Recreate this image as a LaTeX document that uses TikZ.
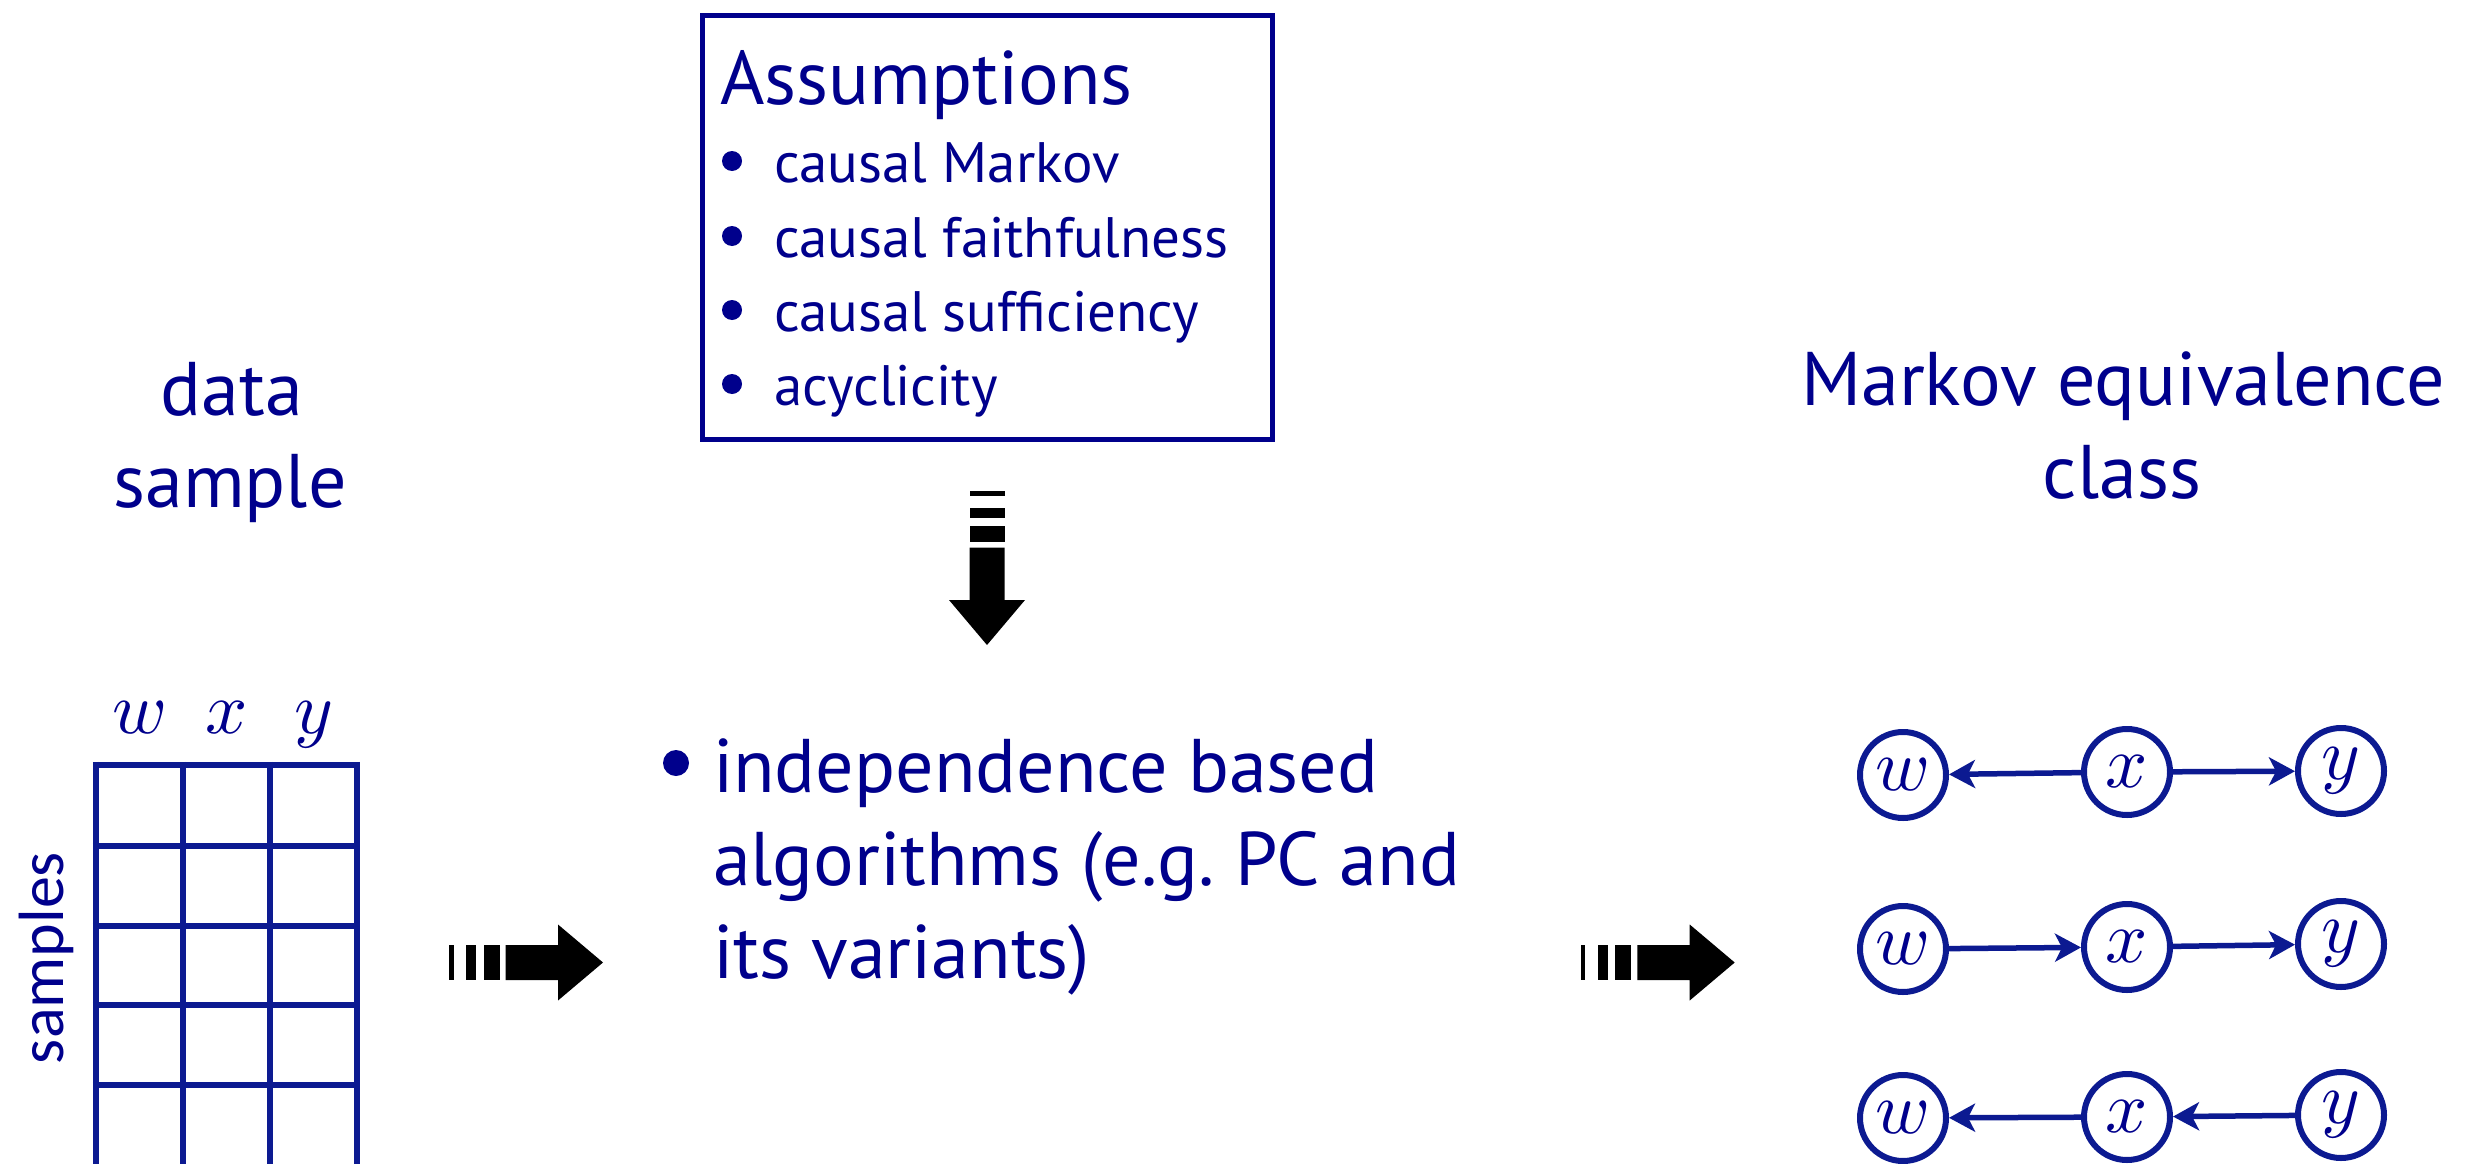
\documentclass[tikz,border=0pt]{standalone}
\usepackage{fontspec}
\setmainfont{PT Sans}
\newfontfamily\samplesfont{Carlito}
\usetikzlibrary{arrows.meta}
% scalable math italic at any size
\DeclareFontFamily{OML}{cmm}{\skewchar\font'177}
\DeclareFontShape{OML}{cmm}{m}{it}{<->cmmi10}{}
\definecolor{inkblue}{RGB}{0,0,140}
\definecolor{lineblue}{RGB}{12,26,145}
\newcommand{\headsize}{\fontsize{76}{76}\selectfont}
\newcommand{\listsize}{\fontsize{57}{57}\selectfont}
\newcommand{\mathsize}{\fontsize{74}{74}\selectfont}
\begin{document}
\begin{tikzpicture}[x=1pt,y=-1pt,
  txt/.style={inner sep=0pt, outer sep=0pt, text=inkblue},
  gnode/.style={circle, draw=lineblue, line width=6pt, minimum size=86pt,
    inner sep=0pt, text=inkblue, font=\mathsize},
  edge/.style={draw=lineblue, line width=5.5pt,
    -{Stealth[length=26pt,width=28pt,inset=7pt]}},
  gridline/.style={draw=lineblue, line width=6.5pt},
  pics/striped/.style={code={
    \fill (0,-17.5) rectangle (4.7,17.5);
    \fill (17.4,-17.5) rectangle (27.4,17.5);
    \fill (34.7,-17.5) rectangle (50.7,17.5);
    \fill (56.7,-17.5) -- (109,-17.5) -- (109,-38) -- (154,0)
      -- (109,38) -- (109,17.5) -- (56.7,17.5) -- cycle;
  }}
]
\useasboundingbox (0,0) rectangle (2476,1164);

% assumptions box
\node[draw=inkblue, line width=5pt, minimum width=570pt, minimum height=424pt,
  anchor=north west, inner sep=0pt] (box) at (700,13) {};
\node[txt, anchor=base west, font=\headsize] (asm) at (720,104) {Assumptions};
\node[txt, anchor=base west, font=\listsize] (a1) at (774,182) {causal Markov};
\node[txt, anchor=base west, font=\listsize] (a2) at (774,257) {causal faithfulness};
\node[txt, anchor=base west, font=\listsize] (a3) at (774,331) {causal sufficiency};
\node[txt, anchor=base west, font=\listsize] (a4) at (774,405) {acyclicity};
\foreach \yy in {161,236,310,384}
  \fill[inkblue] (732,\yy) circle (10);

% down arrow into the method
\pic[black, rotate=-90] at (987,491) {striped};

% data sample
\node[txt, anchor=base, font=\headsize] (data) at (232,415) {data};
\node[txt, anchor=base, font=\headsize] (sample) at (230,507) {sample};
\node[txt, anchor=base, rotate=90, font=\samplesfont\fontsize{64}{64}\selectfont]
  (samples) at (63,958) {samples};
\node[txt, anchor=base, font=\mathsize] (cw) at (139.5,733) {$w$};
\node[txt, anchor=base, font=\mathsize] (cx) at (226.5,733) {$x$};
\node[txt, anchor=base, font=\mathsize] (cy) at (313.5,733) {$y$};
\foreach \xx in {96,183,270,357}
  \draw[gridline] (\xx,761.75) -- (\xx,1170);
\foreach \yy in {765,846,926,1005,1085}
  \draw[gridline] (92.75,\yy) -- (360.25,\yy);

% arrows between stages
\pic[black] at (449,962.5) {striped};
\pic[black] at (1580.7,962.5) {striped};

% method
\fill[inkblue] (676,763) circle (13);
\node[txt, anchor=base west, font=\headsize] (m1) at (713,792) {independence based};
\node[txt, anchor=base west, font=\headsize] (m2) at (713,885) {algorithms (e.g.\ PC and};
\node[txt, anchor=base west, font=\headsize] (m3) at (713,978) {its variants)};

% Markov equivalence class
\node[txt, anchor=base, font=\headsize] (mec1) at (2123,405) {Markov equivalence};
\node[txt, anchor=base, font=\headsize] (mec2) at (2122,498) {class};

\node[gnode] (w1) at (1903,775) {$w$};
\node[gnode] (x1) at (2127,772) {$x$};
\node[gnode] (y1) at (2341,771) {$y$};
\node[gnode] (w2) at (1903,949) {$w$};
\node[gnode] (x2) at (2127,947) {$x$};
\node[gnode] (y2) at (2341,944) {$y$};
\node[gnode] (w3) at (1903,1118) {$w$};
\node[gnode] (x3) at (2127,1117) {$x$};
\node[gnode] (y3) at (2341,1115) {$y$};

\draw[edge] (x1) -- (w1);
\draw[edge] (x1) -- (y1);
\draw[edge] (w2) -- (x2);
\draw[edge] (x2) -- (y2);
\draw[edge] (x3) -- (w3);
\draw[edge] (y3) -- (x3);
\end{tikzpicture}
\end{document}
